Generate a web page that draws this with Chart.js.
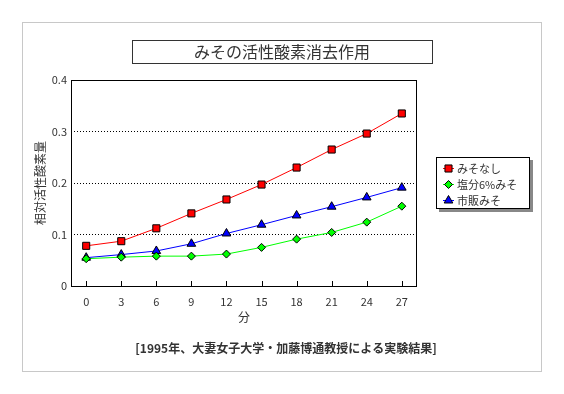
<!DOCTYPE html>
<html>
<head>
<meta charset="utf-8">
<script src="https://cdn.jsdelivr.net/npm/chart.js@4"></script>
<style>
  html, body { margin: 0; padding: 0; background: #fff; }
  #wrap { position: relative; width: 564px; height: 394px; }
</style>
</head>
<body>
<div id="wrap"><canvas id="c" width="564" height="394"></canvas></div>
<script>
// values
const minutes = [0, 3, 6, 9, 12, 15, 18, 21, 24, 27];
const misoNone = [0.078, 0.087, 0.112, 0.141, 0.168, 0.197, 0.230, 0.265, 0.296, 0.335];
const misoSalt6 = [0.053, 0.056, 0.058, 0.058, 0.062, 0.075, 0.091, 0.104, 0.124, 0.155];
const misoRetail = [0.055, 0.061, 0.068, 0.082, 0.102, 0.119, 0.137, 0.154, 0.172, 0.191];
const yTicks = [0, 0.1, 0.2, 0.3, 0.4];
const seriesNames = ['みそなし', '塩分6%みそ', '市販みそ'];
const chartTitle = 'みその活性酸素消去作用';
const yTitle = '相対活性酸素量';
const xTitle = '分';
const sourceNote = '[1995年、大妻女子大学・加藤博通教授による実験結果]';

const FONT = '"Noto Sans CJK JP", "Noto Sans", sans-serif';
Chart.defaults.font.family = FONT;
Chart.defaults.color = '#333';

const toPoints = (arr) => arr.map((v, i) => ({ x: minutes[i], y: v }));

function drawMarker(ctx, ds, x, y) {
    ctx.save();
    ctx.fillStyle = ds.pointBackgroundColor;
    ctx.strokeStyle = ds.pointBorderColor;
    ctx.lineWidth = ds.pointBorderWidth;
    if (Chart.helpers && Chart.helpers.drawPoint) {
        Chart.helpers.drawPoint(ctx, {
            pointStyle: ds.pointStyle, radius: ds.pointRadius,
            rotation: 0, borderWidth: ds.pointBorderWidth
        }, x, y);
    } else {
        ctx.fillRect(x - 3, y - 3, 7, 7);
        ctx.strokeRect(x - 3, y - 3, 7, 7);
    }
    ctx.restore();
}

// frame, title box, legend box, note, inward tick marks
const decorations = {
    id: 'decorations',
    beforeDraw(chart) {
        const ctx = chart.ctx;
        ctx.save();
        ctx.fillStyle = '#fff';
        ctx.fillRect(0, 0, chart.width, chart.height);
        ctx.strokeStyle = '#c8c8c8';
        ctx.lineWidth = 1;
        ctx.strokeRect(22.5, 22.5, 519, 349);
        ctx.restore();
    },
    afterDraw(chart) {
        const ctx = chart.ctx;
        const a = chart.chartArea;
        const xs = chart.scales.x;
        ctx.save();

        // plot frame
        ctx.strokeStyle = '#000';
        ctx.lineWidth = 1;
        ctx.strokeRect(a.left + 0.5, a.top + 0.5, a.right - a.left - 1, a.bottom - a.top);

        // tick marks pointing into the plot
        ctx.beginPath();
        minutes.forEach(m => {
            const px = Math.round(xs.getPixelForValue(m)) + 0.5;
            ctx.moveTo(px, a.bottom);
            ctx.lineTo(px, a.bottom - 5);
        });
        ctx.stroke();

        // title box
        ctx.fillStyle = '#fff';
        ctx.fillRect(132, 40, 300, 23);
        ctx.strokeStyle = '#333';
        ctx.strokeRect(132.5, 40.5, 300, 23);
        ctx.fillStyle = '#333';
        ctx.font = '16px ' + FONT;
        ctx.textAlign = 'center';
        ctx.textBaseline = 'middle';
        ctx.fillText(chartTitle, 282, 52);

        // legend box with shadow
        ctx.fillStyle = '#888';
        ctx.fillRect(439, 160, 94, 52);
        ctx.fillStyle = '#fff';
        ctx.fillRect(436, 157, 94, 52);
        ctx.strokeStyle = '#000';
        ctx.strokeRect(436.5, 157.5, 93, 51);
        ctx.font = '11px ' + FONT;
        ctx.textAlign = 'left';
        chart.data.datasets.forEach((ds, i) => {
            const y = 168 + i * 16;
            ctx.strokeStyle = ds.borderColor;
            ctx.lineWidth = 1;
            ctx.beginPath();
            ctx.moveTo(443, y + 0.5);
            ctx.lineTo(454, y + 0.5);
            ctx.stroke();
            drawMarker(ctx, ds, 448.5, y + 0.5);
            ctx.fillStyle = '#333';
            ctx.fillText(ds.label, 457, y + 1);
        });

        // source note
        ctx.font = 'bold 12px ' + FONT;
        ctx.textAlign = 'center';
        ctx.fillStyle = '#333';
        ctx.fillText(sourceNote, 286, 348);
        ctx.restore();
    }
};

new Chart(document.getElementById('c'), {
    type: 'line',
    data: {
        datasets: [
            {
                label: seriesNames[0], data: toPoints(misoNone),
                borderColor: '#ff0000', borderWidth: 1,
                pointStyle: 'rect', pointRadius: 5,
                pointBackgroundColor: '#ff0000', pointBorderColor: '#000', pointBorderWidth: 1
            },
            {
                label: seriesNames[1], data: toPoints(misoSalt6),
                borderColor: '#00ff00', borderWidth: 1,
                pointStyle: 'rectRot', pointRadius: 4,
                pointBackgroundColor: '#00ff00', pointBorderColor: '#000', pointBorderWidth: 1
            },
            {
                label: seriesNames[2], data: toPoints(misoRetail),
                borderColor: '#0000ff', borderWidth: 1,
                pointStyle: 'triangle', pointRadius: 5,
                pointBackgroundColor: '#0000ff', pointBorderColor: '#000', pointBorderWidth: 1
            }
        ]
    },
    options: {
        responsive: false,
        animation: false,
        devicePixelRatio: 1,
        layout: { padding: { left: 29, right: 147, top: 80, bottom: 68 } },
        plugins: {
            legend: { display: false },
            tooltip: { enabled: false },
            title: { display: false }
        },
        scales: {
            x: {
                type: 'linear',
                min: -1.3,
                max: 28.3,
                afterBuildTicks: s => { s.ticks = minutes.map(v => ({ value: v })); },
                afterFit: s => { s.height = 40; s.paddingLeft = 0; s.paddingRight = 0; },
                grid: { display: false },
                border: { display: false },
                ticks: { font: { size: 11 }, color: '#333', padding: 1, maxRotation: 0, autoSkip: false },
                title: { display: true, text: xTitle, font: { size: 12 }, color: '#333', padding: { top: 0, bottom: 1 } }
            },
            y: {
                min: 0,
                max: 0.4,
                afterBuildTicks: s => { s.ticks = yTicks.map(v => ({ value: v })); },
                afterFit: s => { s.width = 42; s.paddingTop = 0; s.paddingBottom = 0; },
                grid: {
                    drawTicks: false,
                    lineWidth: 1,
                    color: c => (c.index > 0 && c.index < yTicks.length - 1) ? '#000' : 'rgba(0,0,0,0)'
                },
                border: { display: false, dash: [1, 2] },
                ticks: { font: { size: 11 }, color: '#333', padding: 4, callback: v => String(v) },
                title: { display: true, text: yTitle, font: { size: 12 }, color: '#333', padding: { top: 4, bottom: 0 } }
            }
        }
    },
    plugins: [decorations]
});
</script>
</body>
</html>
